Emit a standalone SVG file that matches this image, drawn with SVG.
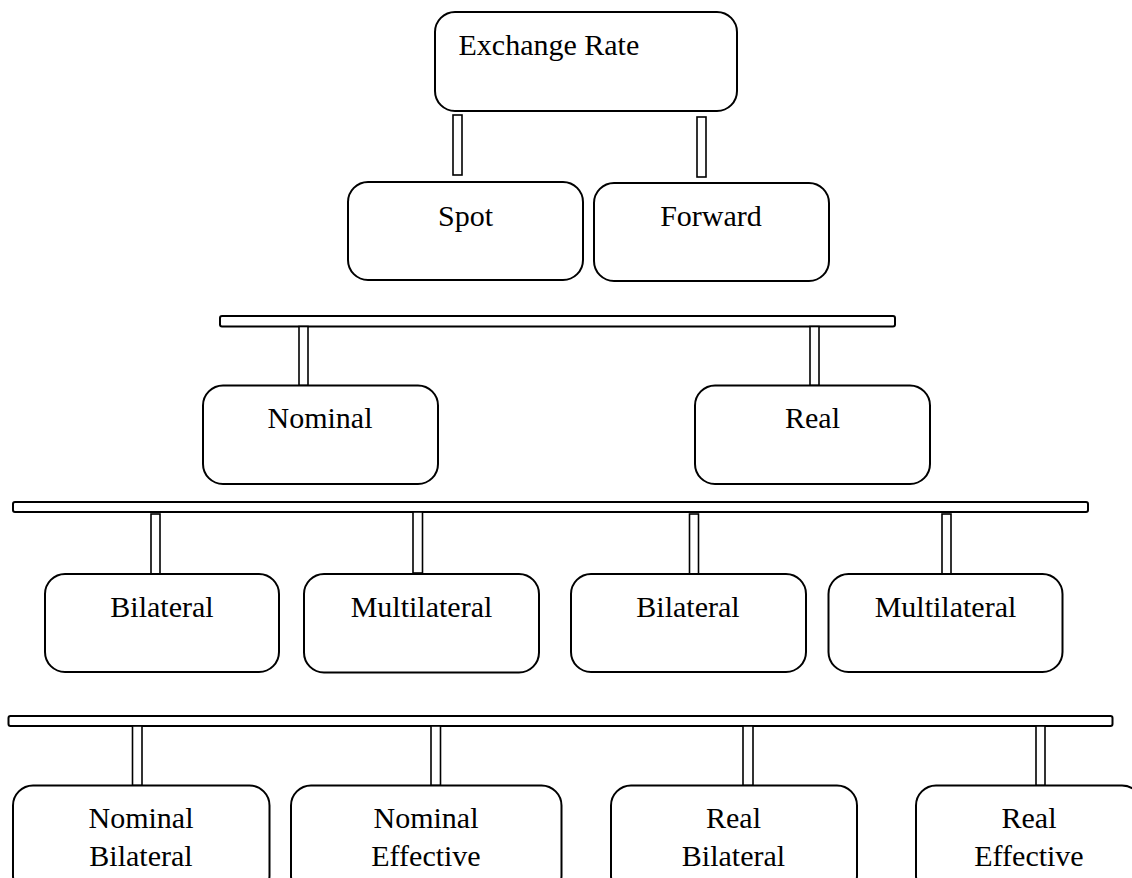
<svg xmlns="http://www.w3.org/2000/svg" width="1132" height="878" viewBox="0 0 1132 878">
<style>
.box{fill:#fff;stroke:#000;stroke-width:2}
.bar{fill:#fff;stroke:#000;stroke-width:2}
.stem{fill:#fff;stroke:#000;stroke-width:1.6}
text{font-family:"Liberation Serif","Times New Roman",serif;font-size:30px;fill:#000}
.c{text-anchor:middle}
</style>
<rect width="1132" height="878" fill="#fff"/>
<g id="connectors">
<rect class="stem" x="453" y="115" width="9" height="60"/>
<rect class="stem" x="697" y="117" width="9" height="60"/>
<rect class="bar" x="220" y="316" width="675" height="10.5" rx="2"/>
<rect class="stem" x="299" y="326.5" width="9" height="59"/>
<rect class="stem" x="810" y="326.5" width="9" height="59"/>
<rect class="bar" x="13" y="502" width="1075" height="10" rx="2"/>
<rect class="stem" x="151" y="514" width="9" height="60"/>
<rect class="stem" x="413" y="512" width="9.5" height="61"/>
<rect class="stem" x="689.5" y="514" width="9" height="60"/>
<rect class="stem" x="942" y="514" width="9" height="60"/>
<rect class="bar" x="8.5" y="716" width="1104" height="10" rx="2"/>
<rect class="stem" x="132.5" y="726" width="9.5" height="59.5"/>
<rect class="stem" x="431" y="726" width="9.5" height="59.5"/>
<rect class="stem" x="743" y="726" width="10" height="59.5"/>
<rect class="stem" x="1036" y="726" width="9" height="59.5"/>
</g>
<g id="exchange-rate">
<rect class="box" x="435" y="12" width="302" height="99" rx="20"/>
<text x="458.5" y="55">Exchange Rate</text>
</g>
<g id="spot">
<rect class="box" x="348" y="182" width="235" height="98" rx="20"/>
<text class="c" x="465.5" y="226">Spot</text>
</g>
<g id="forward">
<rect class="box" x="594" y="183" width="235" height="98" rx="20"/>
<text class="c" x="711" y="226">Forward</text>
</g>
<g id="nominal">
<rect class="box" x="203" y="385.5" width="235" height="98.5" rx="20"/>
<text class="c" x="320" y="428">Nominal</text>
</g>
<g id="real">
<rect class="box" x="695" y="385.5" width="235" height="98.5" rx="20"/>
<text class="c" x="812.5" y="428">Real</text>
</g>
<g id="bilateral-1">
<rect class="box" x="45" y="574" width="234" height="98" rx="20"/>
<text class="c" x="162" y="617">Bilateral</text>
</g>
<g id="multilateral-1">
<rect class="box" x="304" y="574" width="235" height="98.5" rx="20"/>
<text class="c" x="421.5" y="617">Multilateral</text>
</g>
<g id="bilateral-2">
<rect class="box" x="571" y="574" width="235" height="98" rx="20"/>
<text class="c" x="688" y="617">Bilateral</text>
</g>
<g id="multilateral-2">
<rect class="box" x="828.5" y="574" width="234" height="98" rx="20"/>
<text class="c" x="945.5" y="617">Multilateral</text>
</g>
<g id="nominal-bilateral">
<rect class="box" x="13" y="785.5" width="256.5" height="110" rx="20"/>
<text class="c" x="141" y="828">Nominal</text>
<text class="c" x="141" y="866">Bilateral</text>
</g>
<g id="nominal-effective">
<rect class="box" x="291" y="785.5" width="270.5" height="110" rx="20"/>
<text class="c" x="426" y="828">Nominal</text>
<text class="c" x="426" y="866">Effective</text>
</g>
<g id="real-bilateral">
<rect class="box" x="611" y="785.5" width="246" height="110" rx="20"/>
<text class="c" x="733.5" y="828">Real</text>
<text class="c" x="733.5" y="866">Bilateral</text>
</g>
<g id="real-effective">
<rect class="box" x="916" y="785.5" width="226" height="110" rx="20"/>
<text class="c" x="1029" y="828">Real</text>
<text class="c" x="1029" y="866">Effective</text>
</g>
</svg>
